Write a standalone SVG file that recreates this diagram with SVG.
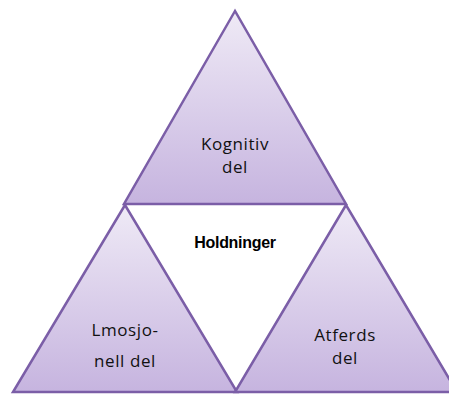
<svg xmlns="http://www.w3.org/2000/svg" width="449" height="394" viewBox="0 0 449 394">
<defs>
<linearGradient id="g" x1="0" y1="0" x2="0" y2="1">
<stop offset="0" stop-color="#efeaf6"/>
<stop offset="1" stop-color="#c6b4df"/>
</linearGradient>
<style>
.tri{fill:url(#g);stroke:#7b5ea7;stroke-width:2.5;stroke-linejoin:miter}
.lbl{font-family:"Open Sans","Liberation Sans",sans-serif;font-size:17px;letter-spacing:0.6px;fill:#111;text-anchor:middle}
.ctr{font-family:"Liberation Sans",Arial,sans-serif;font-size:16px;font-weight:bold;fill:#000;text-anchor:middle}
</style>
</defs>
<rect width="449" height="394" fill="#fff"/>
<g id="top">
<polygon class="tri" points="235,11 124,204 346,204"/>
<text class="lbl" x="235" y="150">Kognitiv</text>
<text class="lbl" x="235" y="173">del</text>
</g>
<g id="left">
<polygon class="tri" points="125,205 13,392 237,392"/>
<text class="lbl" x="125" y="336">Lmosjo-</text>
<text class="lbl" x="125" y="367">nell del</text>
</g>
<g id="right">
<polygon class="tri" points="346,205 235,392 457,392"/>
<text class="lbl" x="345" y="341">Atferds</text>
<text class="lbl" x="345" y="364">del</text>
</g>
<g id="center">
<text class="ctr" x="235" y="248" letter-spacing="-0.3">Holdninger</text>
</g>
<g id="connectors"/>
</svg>
